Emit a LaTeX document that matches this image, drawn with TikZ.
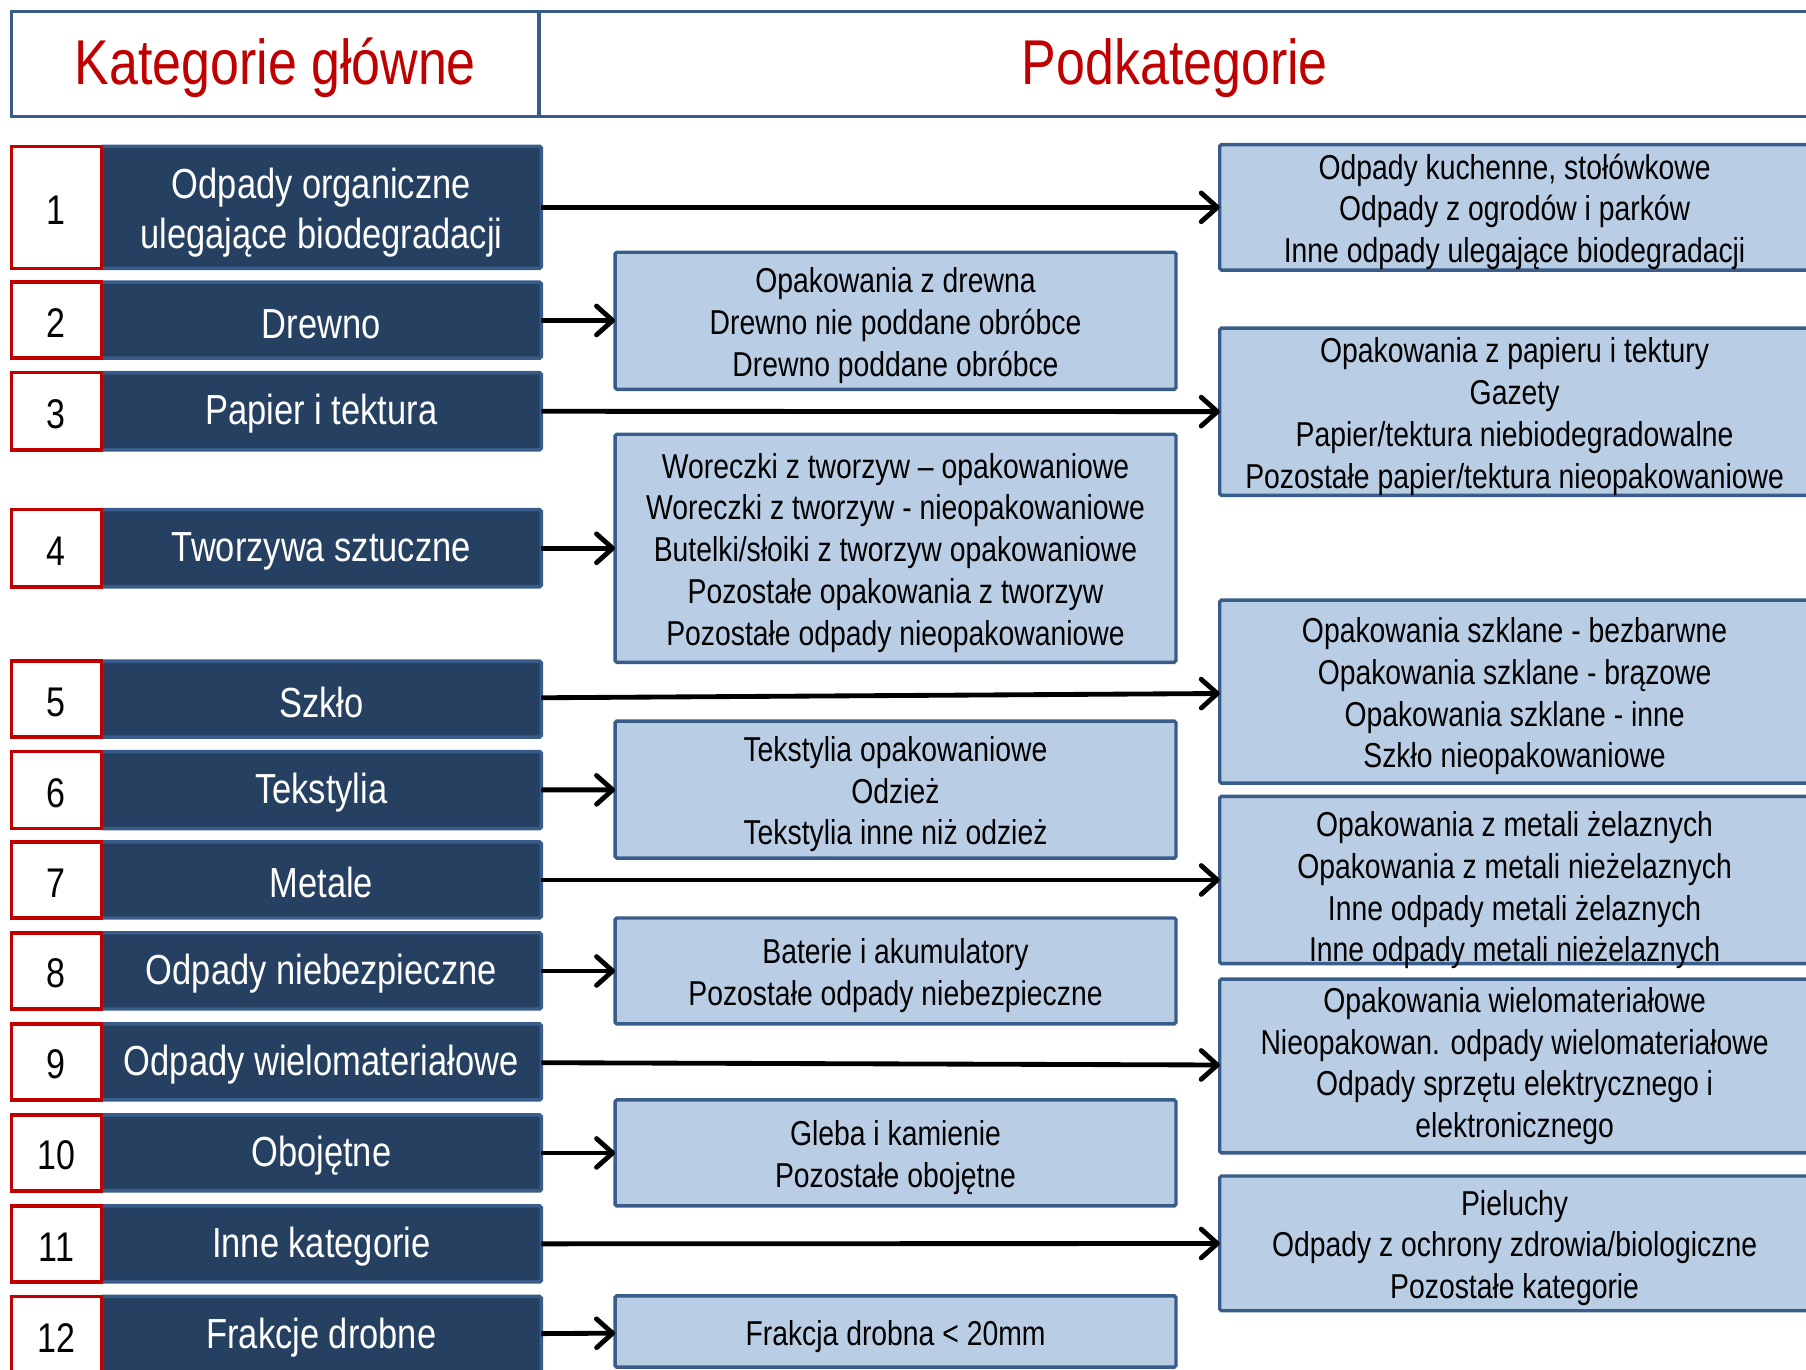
\documentclass[tikz,border=0pt]{standalone}
\usepackage{fontspec}
\setmainfont[FakeStretch=0.82]{Liberation Sans}
\usepackage{xcolor}
\usepackage{tikz}
\usetikzlibrary{positioning}
\usetikzlibrary{arrows.meta}

\definecolor{frameblue}{RGB}{56,93,138}
\definecolor{navy}{RGB}{38,64,97}
\definecolor{paleblue}{RGB}{185,205,229}
\definecolor{titlered}{RGB}{192,0,0}

\newcommand{\topstrut}[1]{\rule{0pt}{#1em}}
\newcommand{\boxlines}[2][-4.5pt]{\raisebox{#1}[\height][\depth]{\begin{tabular}{@{}c@{}}#2\end{tabular}}}

\tikzset{
	headcell/.style={draw=frameblue,line width=3pt,outer sep=0pt,inner sep=0pt,minimum height=91pt,text=titlered,font=\fontsize{55}{60}\selectfont,execute at begin node=\topstrut{0.86}},
	numcell/.style={draw=titlered,line width=3pt,fill=white,outer sep=0pt,inner sep=0pt,minimum width=78pt,font=\fontsize{36}{43}\selectfont,execute at begin node=\topstrut{0.83}},
	catcell/.style={draw=frameblue,line width=3pt,fill=navy,text=white,outer sep=0pt,inner sep=0pt,minimum width=382pt,rounded corners=1.5pt,font=\fontsize{36.5}{43}\selectfont,execute at begin node=\topstrut{0.86}},
	subcell/.style={draw=frameblue,line width=3pt,fill=paleblue,outer sep=0pt,inner sep=0pt,rounded corners=1.5pt,font=\fontsize{30}{36.3}\selectfont},
	midcell/.style={subcell,minimum width=487pt},
	rightcell/.style={subcell,minimum width=512pt},
	link/.style={line width=4.2pt,-{Straight Barb[length=14pt,width=25pt,round]}}
}

\begin{document}
\begin{tikzpicture}[x=1pt,y=-1pt]
	\useasboundingbox (0,0) rectangle (1568,1189);
	
	\node[headcell,minimum width=458pt] (head main) at (239,55.5) {Kategorie główne};
	\node[headcell,minimum width=1104pt,right=0pt of head main] (head sub) {Podkategorie};
	
	\foreach \i/\y/\h/\txt in {1/180/106/{\boxlines[-5.4pt]{Odpady organiczne\\ulegające biodegradacji}},2/278/66/Drewno,3/357/67/Papier i tektura,4/476/67/Tworzywa sztuczne,5/607/66/Szkło,6/686/67/Tekstylia,7/764/66/Metale,8/843/66/Odpady niebezpieczne,9/922/66/Odpady wielomateriałowe,10/1001/66/Obojętne,11/1080/66/Inne kategorie,12/1159/67/Frakcje drobne}{
		\node[catcell,minimum height=\h pt] (cat\i) at (279,\y) {\txt};
		\node[numcell,minimum height=\h pt,left=0pt of cat\i] (num\i) {\i};
	}
	
	\node[midcell,minimum height=119pt] (wood) at (777.5,278.5) {\boxlines{Opakowania z drewna\\Drewno nie poddane obróbce\\Drewno poddane obróbce}};
	\node[midcell,minimum height=198pt] (plastic) at (777.5,476) {\boxlines{Woreczki z tworzyw – opakowaniowe\\Woreczki z tworzyw - nieopakowaniowe\\Butelki/słoiki z tworzyw opakowaniowe\\Pozostałe opakowania z tworzyw\\Pozostałe odpady nieopakowaniowe}};
	\node[midcell,minimum height=119pt] (textile) at (777.5,685.5) {\boxlines{Tekstylia opakowaniowe\\Odzież\\Tekstylia inne niż odzież}};
	\node[midcell,minimum height=92pt] (hazard) at (777.5,843) {\boxlines{Baterie i akumulatory\\Pozostałe odpady niebezpieczne}};
	\node[midcell,minimum height=92pt] (inert) at (777.5,1001) {\boxlines{Gleba i kamienie\\Pozostałe obojętne}};
	\node[midcell,minimum height=62pt] (fines) at (777.5,1156) {\boxlines{Frakcja drobna < 20mm}};
	
	\node[rightcell,minimum height=106pt] (organic) at (1315,180) {\boxlines{Odpady kuchenne, stołówkowe\\Odpady z ogrodów i parków\\Inne odpady ulegające biodegradacji}};
	\node[rightcell,minimum height=145pt] (paper) at (1315,357.5) {\boxlines{Opakowania z papieru i tektury\\Gazety\\Papier/tektura niebiodegradowalne\\Pozostałe papier/tektura nieopakowaniowe}};
	\node[rightcell,minimum height=159pt] (glass) at (1315,600.5) {\boxlines{Opakowania szklane - bezbarwne\\Opakowania szklane - brązowe\\Opakowania szklane - inne\\Szkło nieopakowaniowe}};
	\node[rightcell,minimum height=144pt] (metal) at (1315,764) {\boxlines[-9.5pt]{Opakowania z metali żelaznych\\Opakowania z metali nieżelaznych\\Inne odpady metali żelaznych\\Inne odpady metali nieżelaznych}};
	\node[rightcell,minimum height=151pt] (multi) at (1315,925.5) {\boxlines[-0.5pt]{Opakowania wielomateriałowe\\Nieopakowan. odpady wielomateriałowe\\Odpady sprzętu elektrycznego i\\elektronicznego}};
	\node[rightcell,minimum height=117pt] (other) at (1315,1079.5) {\boxlines{Pieluchy\\Odpady z ochrony zdrowia/biologiczne\\Pozostałe kategorie}};
	
	\foreach \a/\b in {cat1/organic,cat2/wood,cat3/paper,cat4/plastic,cat5/glass,cat6/textile,cat7/metal,cat8/hazard,cat9/multi,cat10/inert,cat11/other,cat12/fines}
		\draw[link] (\a) -- (\b);
\end{tikzpicture}
\end{document}
